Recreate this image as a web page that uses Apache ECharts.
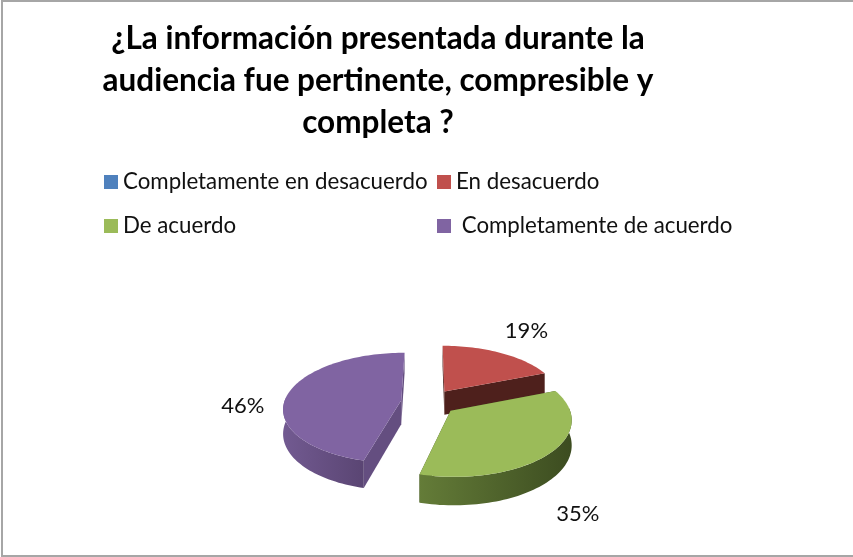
<!DOCTYPE html>
<html>
<head>
<meta charset="utf-8">
<style>
    html, body { margin: 0; padding: 0; background: #fff; }
    #pie_chart_content { width: 853px; height: 557px; }
</style>
<script src="https://cdn.jsdelivr.net/npm/echarts@6/dist/echarts.min.js"></script>
</head>
<body>
<div id="pie_chart_content"></div>
<script>
var chart_title = "¿La información presentada durante la\naudiencia fue pertinente, compresible y\ncompleta ?";
var categories = ["Completamente en desacuerdo", "En desacuerdo", "De acuerdo", " Completamente de acuerdo"];
var percent_values = [0, 19, 35, 46];
var top_colors = ["#4f81bd", "#c0504d", "#9bbb59", "#8064a2"];
var wall_left_colors = ["#3b618e", "#6e2c2a", "#647c38", "#725a91"];
var wall_right_colors = ["#2c4a6e", "#4e201c", "#3c4c20", "#5a4573"];
var cut_colors = ["#2c4a6e", "#4e201c", "#3c4c20", "#644e80"];

var font_name = "Lato, 'Noto Sans', sans-serif";

// geometria del pastel (vista inclinada con algo de perspectiva)
var pie = { cx: 429, cy: 402, rx: 117, ry: 54.5, depth: 24, persp: 0.135, explode: 0.24 };

var total = percent_values.reduce(function (a, b) { return a + b; }, 0);

function project(X, Y, z) {
    var s = 1 / (1 - pie.persp * Y);
    return [pie.cx + pie.rx * X * s, pie.cy + pie.ry * Y * s + z * pie.depth * s];
}

function arc_points(ox, oy, from, to, z) {
    var list = [];
    var steps = Math.max(2, Math.ceil((to - from) / 0.03));
    for (var i = 0; i <= steps; i++) {
        var a = from + (to - from) * i / steps;
        list.push(project(ox + Math.sin(a), oy - Math.cos(a), z));
    }
    return list;
}

function render_slice(index, value) {
    if (!value) return null;
    var before = 0;
    for (var i = 0; i < index; i++) before += percent_values[i];
    var from = before / total * Math.PI * 2;
    var to = (before + value) / total * Math.PI * 2;
    var mid = (from + to) / 2;
    var ox = Math.sin(mid) * pie.explode;
    var oy = -Math.cos(mid) * pie.explode;

    var top_arc = arc_points(ox, oy, from, to, 0);
    var apex = project(ox, oy, 0);
    var apex_low = project(ox, oy, 1);
    var children = [];

    // paredes de los cortes
    [top_arc[0], top_arc[top_arc.length - 1]].forEach(function (p, k) {
        var a = k === 0 ? from : to;
        var low = project(ox + Math.sin(a), oy - Math.cos(a), 1);
        children.push({
            type: "polygon",
            shape: { points: [apex, p, low, apex_low] },
            style: { fill: cut_colors[index] }
        });
    });

    // pared exterior, solo la parte que mira al frente
    var front_from = Math.max(from, Math.PI / 2 - 0.05);
    var front_to = Math.min(to, Math.PI * 1.5 + 0.05);
    if (front_to > front_from) {
        var upper = arc_points(ox, oy, front_from, front_to, 0);
        var lower = arc_points(ox, oy, front_from, front_to, 1);
        children.push({
            type: "polygon",
            shape: { points: upper.concat(lower.reverse()) },
            style: {
                fill: new echarts.graphic.LinearGradient(0, 0, 1, 0, [
                    { offset: 0, color: wall_left_colors[index] },
                    { offset: 1, color: wall_right_colors[index] }
                ])
            }
        });
    }

    // tapa
    children.push({
        type: "polygon",
        shape: { points: [apex].concat(top_arc) },
        style: { fill: top_colors[index] }
    });

    // etiqueta de porcentaje
    var lx = Math.sin(mid), ly = -Math.cos(mid);
    children.push({
        type: "text",
        style: {
            x: pie.cx + lx * 118 * (1.60 + 0.14 * ly) - 1,
            y: pie.cy + ly * pie.ry * 1.58 + 27 * Math.pow(ly + 0.83, 1.8),
            text: value + "%",
            fill: "#111",
            font: "22px " + font_name,
            align: "center",
            verticalAlign: "middle"
        }
    });

    return { type: "group", children: children };
}

var series_list = categories.map(function (name, index) {
    return {
        name: name,
        type: "custom",
        coordinateSystem: "none",
        silent: true,
        itemStyle: { color: top_colors[index] },
        data: [[percent_values[index]]],
        renderItem: function (params, api) {
            return render_slice(index, api.value(0));
        }
    };
});

var legend_style = {
    orient: "vertical",
    top: 171,
    padding: 0,
    itemWidth: 14,
    itemHeight: 14,
    itemGap: 22,
    icon: "rect",
    selectedMode: false,
    textStyle: { fontFamily: font_name, fontSize: 22.3, color: "#111" }
};

var chart = echarts.init(document.getElementById("pie_chart_content"), null, { renderer: "canvas" });
chart.setOption({
    animation: false,
    backgroundColor: "#fff",
    title: {
        text: chart_title,
        left: 373,
        top: 13,
        textAlign: "center",
        textStyle: { fontFamily: font_name, fontSize: 31.5, fontWeight: "bold", color: "#000", lineHeight: 42, align: "center" }
    },
    legend: [
        Object.assign({}, legend_style, { left: 104, data: [categories[0], categories[2]] }),
        Object.assign({}, legend_style, { left: 437, data: [categories[1], categories[3]] })
    ],
    graphic: [{
        type: "rect",
        silent: true,
        shape: { x: 2, y: 1, width: 900, height: 555 },
        style: { fill: "none", stroke: "#a6a6a6", lineWidth: 2 }
    }],
    series: series_list
});
</script>
</body>
</html>
